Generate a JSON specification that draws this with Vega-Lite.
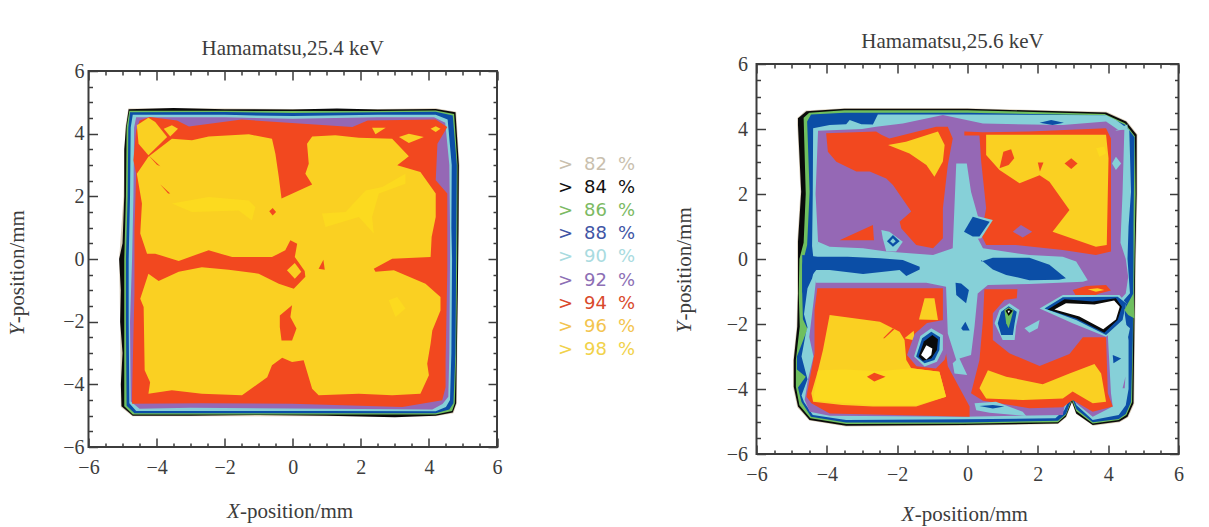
{"$schema":"https://vega.github.io/schema/vega-lite/v6.json","background":"white","padding":{"left":5.5,"top":30,"right":20,"bottom":10},"bounds":"flush","center":true,"spacing":30,
"config":{"font":"Liberation Serif","view":{"stroke":"#3c3c3c","strokeWidth":2},"axis":{"grid":false,"domain":false,"title":null,"tickColor":"#3c3c3c","tickWidth":1.5,"labelColor":"#3c3c3c","labelFontSize":20,"labelOverlap":false,"labelBound":false,"labelFlush":false,"labelFont":"Liberation Serif"},"text":{"font":"Liberation Serif","fontSize":21,"color":"#3c3c3c"}},
"datasets":{
"L":[
{"p":1,"l":82,"x":[-4.83,-2,0,2.5,4.21,4.8,4.9,4.86,4.82,4.72,4.2,1,-3,-4.71,-5.05,-5.07,-5.1,-4.97,-4.92],"y":[4.8,4.8,4.79,4.79,4.81,4.7,3,0,-4.6,-4.92,-5.02,-5.02,-5.02,-5.02,-4.72,-2,0,2,4.2]},
{"p":2,"l":84,"x":[-4.82,-3.5,-2,0,1.3,2.5,4.2,4.78,4.88,4.87,4.85,4.82,4.8,4.7,4.2,3,1,-1,-3,-4.7,-5.03,-5.05,-5,-5.07,-5.05,-5.1,-5,-4.95,-4.95,-4.9],"y":[4.78,4.82,4.78,4.77,4.8,4.77,4.79,4.68,3,1,-1,-3,-4.6,-4.9,-5,-5.05,-5,-4.98,-5,-5,-4.7,-4,-3,-2,-1,0,0.5,2,3.5,4.2]},
{"p":3,"l":86,"x":[-4.8,-2,0,2.5,4.2,4.74,4.84,4.83,4.8,4.76,4.68,4.2,1,-3,-4.7,-4.95,-4.95,-4.95,-4.9,-4.88],"y":[4.73,4.73,4.72,4.72,4.74,4.63,3,0,-3,-4.6,-4.85,-4.96,-4.96,-4.96,-4.96,-4.7,-2,0,2,4.2]},
{"p":4,"l":88,"x":[-4.78,-2,0,2.5,4.2,4.7,4.82,4.8,4.78,4.72,4.6,4.2,1,-3,-4.65,-4.88,-4.9,-4.9,-4.85,-4.83],"y":[4.68,4.69,4.66,4.68,4.7,4.58,3,0,-3,-4.6,-4.8,-4.92,-4.92,-4.92,-4.92,-4.68,-2,0,2,4.2]},
{"p":5,"l":90,"x":[-4.7,-2,0,2.5,4.2,4.55,4.67,4.66,4.68,4.66,4.62,4.5,4.2,1,-3,-4.6,-4.8,-4.82,-4.82,-4.78,-4.76],"y":[4.6,4.6,4.56,4.6,4.6,4.45,3,1,0,-3,-4.5,-4.72,-4.86,-4.85,-4.85,-4.85,-4.6,-2,0,2,4.2]},
{"p":6,"l":92,"x":[-4.6,-2,0,2.5,4.15,4.48,4.6,4.62,4.62,4.6,4.57,4.4,4.1,1,-3,-4.5,-4.76,-4.78,-4.72,-4.68,-4.66],"y":[4.52,4.52,4.48,4.52,4.52,4.35,3,1,0,-3,-4.4,-4.63,-4.8,-4.78,-4.75,-4.78,-4.55,-2,0,2,4.2]},
{"p":7,"l":94,"x":[-4.5,-4.2,-3.4,-3.05,-1.5,1.75,2.2,4.2,4.54,4.25,4.2,4.54,4.54,4.54,4.49,4.49,4.39,3.22,-0.02,-2.67,-4.72,-4.72,-4.65,-4.65,-4.6,-4.68,-4.6],"y":[4.42,4.53,4.42,4.23,4.45,4.21,4.42,4.45,4.21,3.68,2.51,2.09,0.7,-0.36,-3.23,-4.09,-4.51,-4.72,-4.62,-4.6,-4.62,-4.3,-1.1,0.91,2.72,3.15,4.1]},
{"p":8,"l":96,"x":[-3.55,-4.24,-4.58,-4.43,-4.48,-4.28,-4.04,-3.35,-2.47,-1.78,-0.61,-0.22,-0.07,0.13,0.06,0.35,0.37,0.03,-0.41,-1,-1.88,-2.67,-3.35,-3.94,-4.24,-4.48,-4.38,-4.35,-4.19,-4.24,-3.55,-2.67,-1.49,-0.75,-0.61,-0.31,-0.02,0.32,0.57,0.76,1.94,2.92,3.75,4,3.95,4.05,4.1,4.34,4.34,3.9,2.97,2.43,2.38,2.92,4.05,4.08,4.2,4.2,3.75,3.07,3.41,2.92,1.94,1.25,0.57,0.42,0.47,0.37,0.57,-0.33,-0.41,-0.51,-0.61,-1.29,-2.47,-2.96],"y":[3.84,3.26,2.72,1.77,0.81,0.17,0.17,-0.06,0.28,0.06,0.06,0.28,0.6,0.49,0.06,-0.38,-0.57,-0.95,-0.79,-0.47,-0.34,-0.26,-0.41,-0.7,-0.47,-1.27,-1.53,-3.55,-3.93,-4.3,-4.19,-4.3,-4.35,-3.77,-3.39,-3.15,-3.29,-3.23,-4.14,-4.35,-4.3,-4.35,-4.3,-3.71,-3.34,-2.7,-2.28,-1.64,-1.21,-0.79,-0.36,-0.41,-0.31,0.01,0.06,0.7,1.34,2.09,2.78,2.99,3.28,3.84,3.87,3.95,3.91,3.68,3.04,2.72,2.38,1.93,2.62,3.36,3.84,3.98,3.91,3.79]},
{"p":9,"l":96,"x":[-4.58,-4.24,-4.04,-3.69,-4.24,-4.53],"y":[4.27,4.51,4.37,3.89,3.31,3.68]},
{"p":10,"l":96,"x":[-3.79,-3.55,-3.37,-3.6],"y":[4.16,4.27,4.16,3.91]},
{"p":11,"l":96,"x":[2.33,2.73,2.43],"y":[4.19,4.19,3.98]},
{"p":12,"l":96,"x":[3.12,3.41,3.85,3.41],"y":[3.89,4,3.89,3.7]},
{"p":13,"l":96,"x":[4.05,4.2,4.34,4.2],"y":[4.16,4.24,4.16,4.05]},
{"p":14,"l":94,"x":[-0.69,-0.59,-0.49,-0.59],"y":[1.52,1.63,1.5,1.39]},
{"p":15,"l":94,"x":[0.76,0.9,0.94],"y":[-0.31,-0.02,-0.34]},
{"p":16,"l":94,"x":[-0.38,-0.02,-0.07,0.11,-0.02,-0.33,-0.38],"y":[-1.8,-1.48,-1.85,-2.22,-2.6,-2.6,-2.17]},
{"p":17,"l":96,"x":[-0.17,0.06,0.25,0.06],"y":[-0.36,-0.13,-0.41,-0.63]},
{"p":18,"l":94,"x":[-4.24,-3.89,-3.99],"y":[3.31,2.96,3.01]},
{"p":19,"l":94,"x":[-3.89,-3.6,-3.66],"y":[2.38,2.09,2.09]},
{"p":20,"l":98,"x":[-3.55,-2.47,-1.29,-1.1,-1.2,-1.59,-2.96],"y":[1.77,1.98,1.87,1.66,1.23,1.55,1.5]},
{"p":21,"l":98,"x":[0.86,1.55,2.14,2.63,3.31,3.31,2.53,2.33,2.38,1.94,0.96],"y":[1.45,1.5,2.19,2.3,2.72,2.4,2.09,1.34,0.81,1.34,1.02]},
{"p":22,"l":98,"x":[2.82,3.07,3.31,3.02],"y":[-1.32,-1.21,-1.58,-1.85]}
],
"R":[
{"p":1,"l":82,"x":[-4.84,-4.6,-3.52,0,3.96,4.53,4.83,4.83,4.79,4.74,4.57,4.33,3.57,3.09,2.97,2.81,2.58,-0.13,-3.46,-4.5,-4.84,-4.96,-4.96,-4.86,-4.84,-4.84,-4.84,-4.75,-4.84],"y":[4.34,4.57,4.64,4.64,4.53,4.25,3.84,2,0,-4.46,-4.87,-5.02,-5.13,-4.77,-4.41,-4.87,-5.08,-5.13,-5.15,-4.97,-4.56,-3.95,-3.12,-2.09,-1.06,-0.03,0.53,2.08,4.14]},
{"p":2,"l":84,"x":[-4.82,-4.58,-3.5,0,3.94,4.51,4.81,4.81,4.77,4.72,4.55,4.32,3.56,3.09,2.97,2.8,2.57,-0.13,-3.45,-4.49,-4.82,-4.94,-4.94,-4.84,-4.82,-4.82,-4.82,-4.73,-4.82],"y":[4.33,4.55,4.62,4.62,4.51,4.23,3.82,2,0,-4.44,-4.85,-5,-5.11,-4.75,-4.39,-4.85,-5.06,-5.11,-5.13,-4.95,-4.54,-3.93,-3.11,-2.08,-1.06,-0.03,0.53,2.07,4.12]},
{"p":3,"l":86,"x":[-4.66,-4.5,-3.5,0,3.9,4.48,4.76,4.78,4.75,4.68,4.52,4.3,3.56,3.09,2.97,2.8,2.57,-0.13,-3.45,-4.47,-4.78,-4.88,-4.88,-4.77,-4.8,-4.78,-4.66,-4.6],"y":[4.35,4.5,4.58,4.58,4.46,4.18,3.78,2,0,-4.4,-4.8,-4.95,-5.06,-4.68,-4.33,-4.8,-5.02,-5.07,-5.08,-4.9,-4.5,-3.93,-3.1,-2.08,-1.06,0,0.5,2]},
{"p":4,"l":88,"x":[-4.45,-3.5,0,3.9,4.48,4.75,4.72,4.72,4.7,4.65,4.5,4.3,3.56,3.1,2.97,2.8,2.57,-0.13,-3.45,-4.45,-4.72,-4.82,-4.6,-4.85,-4.85,-4.55,-4.68,-4.7,-4.7,-4.56,-4.49,-4.56],"y":[4.45,4.5,4.5,4.42,4.13,3.75,1,0,-2.5,-4.4,-4.77,-4.92,-5.02,-4.62,-4.27,-4.77,-4.98,-5.03,-5.03,-4.85,-4.4,-3.95,-3.62,-3.4,-3,-2.15,-1.85,-1.06,-0.18,0.43,2.07,4.23]},
{"p":5,"l":90,"x":[-4.39,-3.92,-3.45,-3.35,-3.02,-2.69,-2.55,0,3.94,4.22,4.6,4.65,4.58,4.55,4.62,4.42,4.58,4.58,4.5,4.3,3.56,3.1,2.97,2.75,2.5,-0.13,-3.45,-4.4,-4.65,-4.72,-4.55,-4.72,-4.6,-4.55,-4.65,-4.55,-4.42,-4.35,-4.42,-4.4],"y":[4.02,4.12,4.15,4.28,4.15,4.14,4.45,4.45,4.42,4.28,3.98,2.07,1,0,-1.05,-1.3,-2.5,-4,-4.5,-4.8,-4.95,-4.5,-4.15,-4.65,-4.9,-4.93,-4.95,-4.8,-4.4,-4.2,-3.7,-3,-2.3,-2.1,-1.7,-0.9,-0.6,-0.3,0.4,2]},
{"p":6,"l":92,"x":[-4.25,-3,-2.6,-1.84,-0.7,0.44,2.71,3.94,4.25,4.46,4.41,4.37,4.35,4.5,4.57,4.5,4.3,3.99,4.08,4.13,3.84,3.56,3.09,2.97,2.76,2.71,-0.13,-3.92,-4.49,-4.63,-4.54,-4.38,-4.5,-4.35,-4.32,-4.32,-4.25,-4.32],"y":[3.95,4,4.07,4.17,4.43,4.17,4.12,4.23,4,3.98,2.07,1.05,0.5,0,-0.55,-1.06,-1.3,-2.34,-4.13,-4.54,-4.7,-4.85,-4.44,-4.24,-4.54,-4.8,-4.85,-4.82,-4.7,-4.34,-3.72,-3,-2.4,-1.06,-0.75,0.1,0.53,2]},
{"p":7,"l":90,"x":[-0.32,-0.02,0.1,0.34,0.29,0.44,1.76,2.71,3.09,3.42,3.28,1.76,0.58,0.29,0.2,0.1,-0.23,-0.01,-0.37,-0.42,-0.32,-0.56,-0.61,-1.17,-3.92,-4.32,-4.39,-4.35,-4.25,-3.92,-2.97,-2.31,-0.98,-0.42],"y":[2.94,2.94,2.07,1.15,0.64,0.33,0.12,0.07,-0.08,-0.65,-0.7,-0.77,-0.8,-1.06,-2.08,-2.95,-3.06,-3.57,-3.52,-3.21,-3.11,-2.29,-0.85,-0.73,-0.73,-0.73,-0.34,0.23,0.53,0.38,0.33,0.23,0.12,0.33]},
{"p":8,"l":90,"x":[-2.45,-2.22,-1.84,-2.03,-2.31,-2.41],"y":[0.89,0.84,0.53,0.23,0.23,0.64]},
{"p":9,"l":88,"x":[-4.7,-4.26,-3.41,-2.49,-1.84,-1.36,-1.36,-1.74,-1.93,-2.97,-3.92,-4.3,-4.53,-4.7],"y":[0.12,0.07,0.07,0.02,-0.03,-0.24,-0.32,-0.52,-0.34,-0.46,-0.34,-0.34,-0.65,-1.06]},
{"p":10,"l":88,"x":[0.39,0.72,1.76,2.33,2.8,2.6,1.76,1.1,0.72,0.39],"y":[-0.08,0.04,0.04,-0.18,-0.59,-0.64,-0.65,-0.49,-0.32,-0.03]},
{"p":11,"l":94,"x":[-4.02,-2.6,-2.45,-2.22,-0.89,-0.56,-0.42,-0.56,-0.7,-0.7,-0.98,-1.46,-1.88,-1.93,-1.6,-2.12,-2.31,-2.78,-3.16,-3.73,-3.97],"y":[3.87,3.92,3.82,3.71,4.07,4.07,3.71,2.89,1.56,0.64,0.33,0.43,0.94,1.15,1.46,2.28,2.48,2.69,2.69,2.99,3.3]},
{"p":12,"l":94,"x":[-3.64,-2.69,-2.66],"y":[0.58,1.05,0.58]},
{"p":13,"l":96,"x":[-2.26,-1.75,-0.84,-0.65,-0.7,-0.94,-1.17,-1.65],"y":[3.51,3.61,3.92,3.51,3,2.53,2.89,3.25]},
{"p":14,"l":94,"x":[-0.09,0.44,1.76,3.94,4.08,4.08,4.08,3.65,2.71,1.38,0.53,0.39,0.53,0.39,0.34,-0.09],"y":[3.92,3.9,3.92,4.02,3.71,1.05,0.23,0.12,0.28,0.43,0.43,0.74,1.56,2.99,3.8,3.8]},
{"p":15,"l":96,"x":[0.53,3.94,4.01,3.96,3.65,2.42,2.9,2.33,2.05,1.48,0.91,0.53],"y":[3.82,3.82,3.1,0.43,0.38,0.84,1.51,2.38,2.58,2.33,2.74,3.2]},
{"p":16,"l":94,"x":[0.91,1.02,1.24,1.33,1.17],"y":[2.79,3.3,3.38,3.1,2.89]},
{"p":17,"l":94,"x":[2,2.16,2.06],"y":[2.97,2.97,2.69]},
{"p":18,"l":94,"x":[2.76,2.95,3.13,2.95],"y":[2.94,3.1,2.94,2.77]},
{"p":19,"l":98,"x":[3.66,3.89,3.94,3.75],"y":[3.41,3.46,3.25,3.15]},
{"p":20,"l":90,"x":[4.11,4.22,4.37,4.22],"y":[2.94,3.15,2.94,2.74]},
{"p":21,"l":92,"x":[1.29,1.52,1.84,1.57],"y":[0.84,1.05,0.84,0.66]},
{"p":22,"l":90,"x":[-0.18,0.12,0.72,0.39,0.12],"y":[0.84,1.36,1.2,0.64,0.6]},
{"p":23,"l":88,"x":[-0.1,0.15,0.63,0.34,0.15],"y":[0.84,1.3,1.15,0.69,0.69]},
{"p":24,"l":88,"x":[-2.29,-2.12,-1.93,-2.12],"y":[0.55,0.74,0.55,0.38]},
{"p":25,"l":90,"x":[-2.2,-2.12,-2.04,-2.12],"y":[0.55,0.64,0.55,0.47]},
{"p":26,"l":88,"x":[2.05,2.38,2.74,2.42],"y":[4.19,4.28,4.19,4.12]},
{"p":27,"l":88,"x":[-0.34,-0.18,0.04,-0.04,-0.32],"y":[-0.73,-0.75,-0.95,-1.36,-1.11]},
{"p":28,"l":88,"x":[-0.18,-0.06,0.06,-0.13],"y":[-2.13,-1.93,-2.2,-2.2]},
{"p":29,"l":94,"x":[-4.27,-0.7,-0.7,-0.61,-0.56,0.06,0.06,-3.92,-4.44,-4.58,-4.35,-4.35],"y":[-0.9,-0.9,-1.88,-2.9,-3.3,-4.54,-4.85,-4.75,-4.44,-4.24,-2.9,-1.57]},
{"p":30,"l":96,"x":[-3.92,-2.49,-1.93,-1.79,-1.74,-1.6,-0.8,-0.61,-1.46,-2.69,-3.56,-4.39,-4.44,-4.25,-4.11],"y":[-1.72,-1.93,-2.24,-2.49,-3.11,-3.36,-3.47,-4.24,-4.54,-4.54,-4.49,-4.39,-4.13,-3.42,-2.8]},
{"p":31,"l":98,"x":[-4.25,-3.5,-2.5,-1.6,-0.8,-0.61,-1.46,-2.69,-4.39],"y":[-3.42,-3.4,-3.45,-3.36,-3.47,-4.24,-4.5,-4.5,-4.35]},
{"p":32,"l":94,"x":[-2.86,-2.65,-2.33,-2.65],"y":[-3.62,-3.5,-3.62,-3.77]},
{"p":33,"l":96,"x":[-1.38,-1.22,-0.94,-0.84],"y":[-1.86,-1.21,-1.21,-1.88]},
{"p":34,"l":96,"x":[-1.79,-1.53,-1.5],"y":[-2.44,-2.21,-2.51]},
{"p":35,"l":94,"x":[-2.4,-2.12,-2.08,-2.36],"y":[-2.44,-2.13,-2.16,-2.44]},
{"p":36,"l":92,"x":[-0.68,-1.15,-1.5,-1.72,-1.45,-0.9,-0.65,-0.6],"y":[-1.88,-1.97,-2.3,-2.95,-3.3,-3.37,-3.1,-2.9]},
{"p":37,"l":90,"x":[-1.52,-1.34,-1.03,-0.7,-0.7,-0.87,-1.22],"y":[-3,-2.37,-2.13,-2.34,-2.8,-3.16,-3.31]},
{"p":38,"l":88,"x":[-1.46,-1.29,-1.03,-0.78,-0.8,-0.94,-1.22],"y":[-3,-2.44,-2.24,-2.41,-2.8,-3.11,-3.21]},
{"p":39,"l":84,"x":[-1.39,-1.24,-1,-0.84,-0.87,-1.03,-1.27],"y":[-3,-2.54,-2.34,-2.47,-2.8,-3.06,-3.13]},
{"p":40,"l":0,"x":[-1.32,-1.17,-1,-1.03,-1.17],"y":[-2.95,-2.65,-2.75,-2.95,-3.09]},
{"p":41,"l":94,"x":[0.48,1.42,1.4,1.05,0.72,0.72,1.19,2.05,2.9,3.28,3.94,3.99,4.13,3.56,2.99,2.71,1.76,0.44,0.1,0.34,0.44],"y":[-0.93,-0.93,-1.21,-1.26,-1.67,-2.49,-2.9,-3.29,-2.92,-2.41,-2.41,-4.13,-4.54,-4.7,-4.34,-4.56,-4.59,-4.36,-4.13,-3.11,-1.88]},
{"p":42,"l":96,"x":[0.58,1.1,2.14,2.9,3.61,3.8,3.94,3.56,2.99,2.71,1.57,0.53,0.34],"y":[-3.42,-3.62,-3.85,-3.52,-3.23,-3.52,-4.39,-4.44,-4.08,-4.29,-4.34,-4.29,-3.98]},
{"p":43,"l":94,"x":[2.99,3.37,3.94,4.08,3.75,3.18],"y":[-0.95,-0.83,-0.8,-0.97,-1.06,-1.31]},
{"p":44,"l":96,"x":[3.42,3.7,3.89,3.65],"y":[-0.93,-0.9,-0.95,-1.01]},
{"p":45,"l":90,"x":[2.05,2.71,3.28,4.32,4.51,4.41,3.94,2.99],"y":[-1.52,-1.11,-1.11,-1.11,-1.36,-1.98,-2.39,-1.98]},
{"p":46,"l":88,"x":[2.19,2.71,4.27,4.51,4.41,3.94,3.09],"y":[-1.52,-1.18,-1.16,-1.36,-1.88,-2.34,-1.88]},
{"p":47,"l":84,"x":[2.28,2.76,3.56,4.22,4.39,4.27,3.89,3.09],"y":[-1.55,-1.24,-1.31,-1.21,-1.47,-1.88,-2.27,-1.83]},
{"p":48,"l":0,"x":[2.47,2.8,3.61,4.17,4.33,4.22,3.86,3.18],"y":[-1.55,-1.36,-1.4,-1.28,-1.47,-1.86,-2.16,-1.77]},
{"p":49,"l":90,"x":[0.77,0.91,1.19,1.48,1.38,1.34,1],"y":[-1.98,-1.57,-1.36,-1.57,-2.08,-2.49,-2.49]},
{"p":50,"l":88,"x":[0.86,0.96,1.17,1.4,1.34,1.29,0.96],"y":[-1.98,-1.62,-1.45,-1.62,-1.98,-2.34,-2.34]},
{"p":51,"l":86,"x":[1.1,1.05,1.17,1.31,1.21,1.17],"y":[-1.98,-1.57,-1.49,-1.57,-1.98,-2.13]},
{"p":52,"l":84,"x":[1.08,1.17,1.29,1.17],"y":[-1.59,-1.52,-1.59,-1.75]},
{"p":53,"l":0,"x":[1.14,1.21,1.17],"y":[-1.59,-1.59,-1.67]},
{"p":54,"l":90,"x":[1.62,2.05,2,1.76],"y":[-2.13,-1.88,-2.13,-2.27]},
{"p":55,"l":90,"x":[0.2,0.81,1.57,1.67,0.63,0.25],"y":[-4.44,-4.39,-4.7,-4.83,-4.73,-4.65]},
{"p":56,"l":88,"x":[0.34,0.72,1.05,0.72],"y":[-4.52,-4.49,-4.54,-4.6]},
{"p":57,"l":88,"x":[4.13,4.37,4.15],"y":[-2.95,-3.06,-3.21]},
{"p":58,"l":92,"x":[4.41,4.49,4.47],"y":[-3.98,-3.62,-3.98]},
{"p":59,"l":86,"x":[4.46,4.72,4.75,4.57],"y":[-1.57,-1.05,-1.83,-1.72]},
{"p":60,"l":90,"x":[4.34,4.41,4.62,4.57,4.4],"y":[-2.08,-1.93,-2.13,-2.39,-2.24]},
{"p":61,"l":90,"x":[4.2,4.55,4.55],"y":[3.95,4.15,4]}
],
"K":[{"level":82},{"level":84},{"level":86},{"level":88},{"level":90},{"level":92},{"level":94},{"level":96},{"level":98}],
"A":[{"t":"X"}],"B":[{"t":"-position/mm"}],"C":[{"t":"Y"}]
},
"hconcat":[
{"width":408.5,"height":376,"title":{"text":"Hamamatsu,25.4 keV","fontSize":21,"fontWeight":"normal","color":"#3c3c3c","font":"Liberation Serif","offset":2},
"resolve":{"axis":{"x":"independent","y":"independent"}},
"layer":[
{"data":{"name":"L"},"transform":[{"flatten":["x","y"]}],"mark":{"type":"line","order":null,"strokeWidth":0,"interpolate":"linear"},
"encoding":{
"x":{"field":"x","type":"quantitative","scale":{"domain":[-6,6],"nice":false,"zero":false},"axis":{"orient":"bottom","values":[-6,-5.5,-5,-4.5,-4,-3.5,-3,-2.5,-2,-1.5,-1,-0.5,0,0.5,1,1.5,2,2.5,3,3.5,4,4.5,5,5.5,6],"tickSize":{"condition":{"test":"datum.value%2==0","value":-9},"value":-4},"labelExpr":"datum.value%2==0?replace(format(datum.value,'d'),'-','−'):''","labelPadding":19,"encode":{"labels":{"update":{"dx":{"signal":"datum.value<0?-7:0"}}}}}},
"y":{"field":"y","type":"quantitative","scale":{"domain":[-6,6],"nice":false,"zero":false},"axis":{"orient":"left","values":[-6,-5.5,-5,-4.5,-4,-3.5,-3,-2.5,-2,-1.5,-1,-0.5,0,0.5,1,1.5,2,2.5,3,3.5,4,4.5,5,5.5,6],"tickSize":{"condition":{"test":"datum.value%2==0","value":-9},"value":-4},"labelExpr":"datum.value%2==0?replace(format(datum.value,'d'),'-','−'):''","labelPadding":13.5,"encode":{"labels":{"update":{"dy":{"signal":"3+(datum.value>0?1.5:0.9)*datum.value"}}}}}},
"fill":{"field":"l","type":"ordinal","legend":null,"scale":{"domain":[0,82,84,86,88,90,92,94,96,98],"range":["#ffffff","#d9cdb8","#0a0a0a","#6fbf5f","#0b4ea6","#86d0d8","#9568b5","#f2481f","#fad022","#fcda1f"]}},
"detail":{"field":"p"}}},
{"data":{"name":"A"},"mark":{"type":"text","align":"left","baseline":"middle","fontStyle":"italic"},"encoding":{"text":{"field":"t"},
"x":{"datum":-1.93,"type":"quantitative","axis":{"orient":"top","values":[-6,-5.5,-5,-4.5,-4,-3.5,-3,-2.5,-2,-1.5,-1,-0.5,0,0.5,1,1.5,2,2.5,3,3.5,4,4.5,5,5.5,6],"labels":false,"tickSize":{"condition":{"test":"datum.value%2==0","value":-9},"value":-4}}},
"y":{"datum":-8.09,"type":"quantitative","axis":{"orient":"right","values":[-6,-5.5,-5,-4.5,-4,-3.5,-3,-2.5,-2,-1.5,-1,-0.5,0,0.5,1,1.5,2,2.5,3,3.5,4,4.5,5,5.5,6],"labels":false,"tickSize":{"condition":{"test":"datum.value%2==0","value":-9},"value":-4}}}}},
{"data":{"name":"B"},"mark":{"type":"text","align":"left","baseline":"middle"},"encoding":{"text":{"field":"t"},"x":{"datum":-1.55,"type":"quantitative","axis":null},"y":{"datum":-8.09,"type":"quantitative","axis":null}}},
{"data":{"name":"C"},"mark":{"type":"text","align":"left","baseline":"middle","angle":270,"fontStyle":"italic"},"encoding":{"text":{"field":"t"},"x":{"datum":-8.07,"type":"quantitative","axis":null},"y":{"datum":-2.44,"type":"quantitative","axis":null}}},
{"data":{"name":"B"},"mark":{"type":"text","align":"left","baseline":"middle","angle":270},"encoding":{"text":{"field":"t"},"x":{"datum":-8.07,"type":"quantitative","axis":null},"y":{"datum":-2.05,"type":"quantitative","axis":null}}}
]},
{"width":198.7,"height":390,"view":{"stroke":null},"data":{"name":"K"},
"encoding":{"y":{"field":"level","type":"quantitative","axis":null,"scale":{"domain":[73.44,107.17],"nice":false,"zero":false,"reverse":true}},
"color":{"field":"level","type":"ordinal","legend":null,"scale":{"domain":[82,84,86,88,90,92,94,96,98],"range":["#c9bfae","#111111","#7cba63","#3f55a5","#a9dbe0","#8d6fb5","#d9492c","#f3c44e","#f1d24a"]}}},
"layer":[
{"mark":{"type":"text","font":"DejaVu Sans","fontSize":18,"dy":2},"encoding":{"text":{"value":">"},"x":{"datum":38,"type":"quantitative","axis":null,"scale":{"domain":[0,198.7],"nice":false,"zero":false}}}},
{"mark":{"type":"text","font":"DejaVu Sans","fontSize":18,"dy":2},"encoding":{"text":{"field":"level","type":"quantitative"},"x":{"datum":68,"type":"quantitative","axis":null}}},
{"mark":{"type":"text","font":"DejaVu Sans","fontSize":18,"dy":2},"encoding":{"text":{"value":"%"},"x":{"datum":99,"type":"quantitative","axis":null}}}
]},
{"width":422,"height":390,"title":{"text":"Hamamatsu,25.6 keV","fontSize":21,"fontWeight":"normal","color":"#3c3c3c","font":"Liberation Serif","offset":2,"dx":-15},
"resolve":{"axis":{"x":"independent","y":"independent"}},
"layer":[
{"data":{"name":"R"},"transform":[{"flatten":["x","y"]}],"mark":{"type":"line","order":null,"strokeWidth":0,"interpolate":"linear"},
"encoding":{
"x":{"field":"x","type":"quantitative","scale":{"domain":[-6,6],"nice":false,"zero":false},"axis":{"orient":"bottom","values":[-6,-5.5,-5,-4.5,-4,-3.5,-3,-2.5,-2,-1.5,-1,-0.5,0,0.5,1,1.5,2,2.5,3,3.5,4,4.5,5,5.5,6],"tickSize":{"condition":{"test":"datum.value%2==0","value":-9},"value":-4},"labelExpr":"datum.value%2==0?replace(format(datum.value,'d'),'-','−'):''","labelPadding":19,"encode":{"labels":{"update":{"dx":{"signal":"datum.value==2?5:datum.value==-6?-8:datum.value<0?-4:datum.value>2?-2:0"}}}}}},
"y":{"field":"y","type":"quantitative","scale":{"domain":[-6,6],"nice":false,"zero":false},"axis":{"orient":"left","values":[-6,-5.5,-5,-4.5,-4,-3.5,-3,-2.5,-2,-1.5,-1,-0.5,0,0.5,1,1.5,2,2.5,3,3.5,4,4.5,5,5.5,6],"tickSize":{"condition":{"test":"datum.value%2==0","value":-9},"value":-4},"labelExpr":"datum.value%2==0?replace(format(datum.value,'d'),'-','−'):''","labelPadding":18,"encode":{"labels":{"update":{"dy":{"signal":"3+(datum.value>0?1.6:1)*datum.value"}}}}}},
"fill":{"field":"l","type":"ordinal","legend":null,"scale":{"domain":[0,82,84,86,88,90,92,94,96,98],"range":["#ffffff","#d9cdb8","#0a0a0a","#6fbf5f","#0b4ea6","#86d0d8","#9568b5","#f2481f","#fad022","#fcda1f"]}},
"detail":{"field":"p"}}},
{"data":{"name":"A"},"mark":{"type":"text","align":"left","baseline":"middle","fontStyle":"italic"},"encoding":{"text":{"field":"t"},
"x":{"datum":-1.88,"type":"quantitative","axis":{"orient":"top","values":[-6,-5.5,-5,-4.5,-4,-3.5,-3,-2.5,-2,-1.5,-1,-0.5,0,0.5,1,1.5,2,2.5,3,3.5,4,4.5,5,5.5,6],"labels":false,"tickSize":{"condition":{"test":"datum.value%2==0","value":-9},"value":-4}}},
"y":{"datum":-7.88,"type":"quantitative","axis":{"orient":"right","values":[-6,-5.5,-5,-4.5,-4,-3.5,-3,-2.5,-2,-1.5,-1,-0.5,0,0.5,1,1.5,2,2.5,3,3.5,4,4.5,5,5.5,6],"labels":false,"tickSize":{"condition":{"test":"datum.value%2==0","value":-9},"value":-4}}}}},
{"data":{"name":"B"},"mark":{"type":"text","align":"left","baseline":"middle"},"encoding":{"text":{"field":"t"},"x":{"datum":-1.5,"type":"quantitative","axis":null},"y":{"datum":-7.88,"type":"quantitative","axis":null}}},
{"data":{"name":"C"},"mark":{"type":"text","align":"left","baseline":"middle","angle":270,"fontStyle":"italic"},"encoding":{"text":{"field":"t"},"x":{"datum":-8.04,"type":"quantitative","axis":null},"y":{"datum":-2.28,"type":"quantitative","axis":null}}},
{"data":{"name":"B"},"mark":{"type":"text","align":"left","baseline":"middle","angle":270},"encoding":{"text":{"field":"t"},"x":{"datum":-8.04,"type":"quantitative","axis":null},"y":{"datum":-1.89,"type":"quantitative","axis":null}}}
]}
]}
